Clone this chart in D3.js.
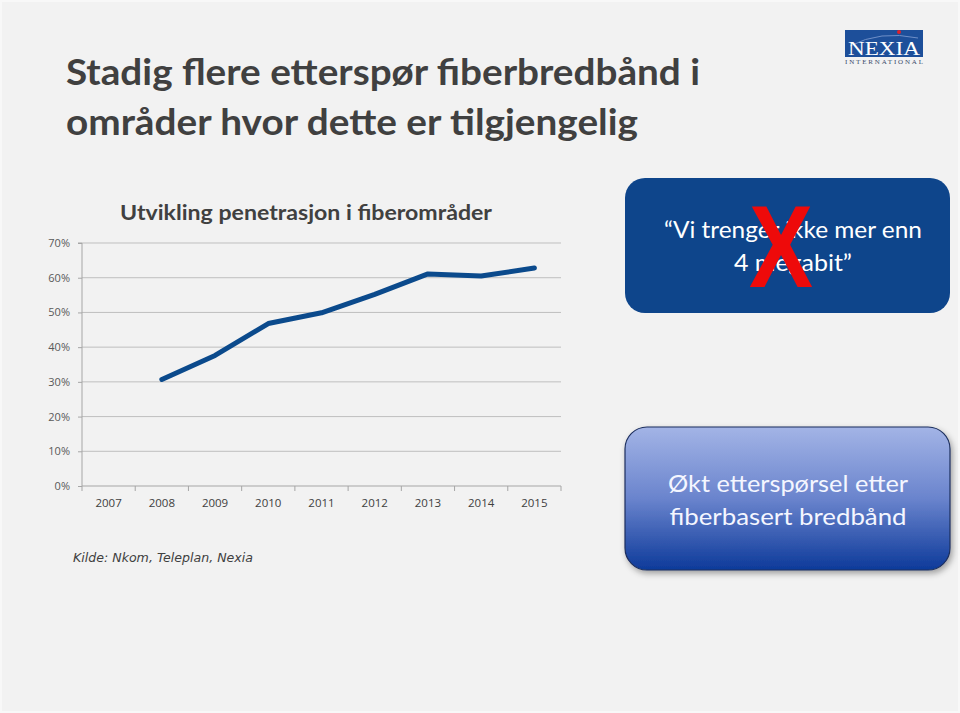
<!DOCTYPE html>
<html><head><meta charset="utf-8">
<script src="https://cdn.jsdelivr.net/npm/d3@7"></script>
<style>
html,body{margin:0;padding:0;background:#f2f2f2;}
svg{display:block;}
</style></head>
<body>
<svg id="c" width="960" height="713"></svg>
<script>
const years = ["2007","2008","2009","2010","2011","2012","2013","2014","2015"];
const penetration = [null, 30.7, 37.6, 46.8, 49.9, 55.2, 61.1, 60.5, 62.8];
const yTicks = [0,10,20,30,40,50,60,70];
const titleLines = ["Stadig flere etterspør fiberbredbånd i","områder hvor dette er tilgjengelig"];
const chartTitle = "Utvikling penetrasjon i fiberområder";
const quoteLines = ["\u201CVi trenger ikke mer enn","4 megabit\u201D"];
const resultLines = ["Økt etterspørsel etter","fiberbasert bredbånd"];
const source = "Kilde: Nkom, Teleplan, Nexia";

const svg = d3.select("#c");
const defs = svg.append("defs");
const W = 960, H = 713;
svg.append("rect").attr("width",W).attr("height",H).attr("fill","#f2f2f2");
svg.append("rect").attr("x",1).attr("y",1).attr("width",W-2).attr("height",H-2)
  .attr("fill","none").attr("stroke","#f8f8f8").attr("stroke-width",2);

// Main title
const tf = "Lato, 'Open Sans', sans-serif";
const tW = [634, 572];
titleLines.forEach((t,i)=>{
  svg.append("text").attr("x",66).attr("y",85+i*50)
    .attr("font-family",tf).attr("font-weight",700).attr("font-size",36)
    .attr("fill","#404040").attr("textLength",tW[i]).attr("lengthAdjust","spacingAndGlyphs")
    .text(t);
});

// Logo
const lg = svg.append("g");
lg.append("rect").attr("x",845).attr("y",30).attr("width",78).attr("height",27).attr("fill","#1d4f9a");
lg.append("path").attr("d","M850,46 Q880,30 918,38").attr("fill","none").attr("stroke","#6f8fc8").attr("stroke-width",1);
lg.append("circle").attr("cx",899).attr("cy",32).attr("r",2).attr("fill","#e0202a");
lg.append("text").attr("x",884).attr("y",55).attr("text-anchor","middle")
  .attr("font-family","'Liberation Serif', serif").attr("font-size",19).attr("fill","#ffffff")
  .attr("textLength",72).attr("lengthAdjust","spacingAndGlyphs").text("NEXIA");
lg.append("text").attr("x",884).attr("y",64).attr("text-anchor","middle")
  .attr("font-family","'Liberation Serif', serif").attr("font-size",7).attr("fill","#3a4a6a")
  .attr("textLength",78).attr("lengthAdjust","spacing").text("INTERNATIONAL");

// Chart
const x = d3.scaleBand().domain(years).range([82,561]);
const y = d3.scaleLinear().domain([0,70]).range([486,243]);
const g = svg.append("g");

g.append("text").attr("x",306).attr("y",220).attr("text-anchor","middle")
  .attr("font-family",tf).attr("font-weight",700).attr("font-size",20).attr("fill","#404040")
  .attr("textLength",372).attr("lengthAdjust","spacingAndGlyphs").text(chartTitle);

// gridlines
g.append("g").selectAll("line").data(yTicks.filter(d=>d>0)).join("line")
  .attr("x1",82).attr("x2",561).attr("y1",d=>y(d)).attr("y2",d=>y(d))
  .attr("stroke","#bfbfbf").attr("stroke-width",1);

// y axis
const yAxis = d3.axisLeft(y).tickValues(yTicks).tickSize(4).tickFormat(d=>d+"%");
const ya = g.append("g").attr("transform","translate(82,0)").call(yAxis);
ya.select(".domain").attr("stroke","#a6a6a6").attr("d","M-4,"+y(70)+"H0V"+y(0));
ya.selectAll(".tick line").attr("stroke","#a6a6a6");
ya.selectAll(".tick text").attr("font-family","'Open Sans', sans-serif").attr("font-size",11)
  .attr("fill","#595959").attr("x",-12);

// x axis
const xa = g.append("g").attr("transform","translate(0,486)");
xa.append("line").attr("x1",82).attr("x2",561).attr("stroke","#a6a6a6");
xa.selectAll("line.t").data(years.concat(["end"])).join("line").attr("class","t")
  .attr("x1",(d,i)=>82+i*x.step()).attr("x2",(d,i)=>82+i*x.step())
  .attr("y1",0).attr("y2",5).attr("stroke","#a6a6a6");
xa.selectAll("text").data(years).join("text")
  .attr("x",d=>x(d)+x.bandwidth()/2).attr("y",21).attr("text-anchor","middle")
  .attr("font-family","'Open Sans', sans-serif").attr("font-size",11.5).attr("fill","#404040")
  .text(d=>d);

// line
const pts = years.map((yr,i)=>({yr, v:penetration[i]})).filter(d=>d.v!=null);
g.append("path").datum(pts)
  .attr("d", d3.line().x(d=>x(d.yr)+x.bandwidth()/2).y(d=>y(d.v)))
  .attr("fill","none").attr("stroke","#0b4a8c").attr("stroke-width",5)
  .attr("stroke-linecap","round").attr("stroke-linejoin","round");

// source
svg.append("text").attr("x",73).attr("y",562)
  .attr("font-family","'DejaVu Sans', Verdana, sans-serif").attr("font-style","italic")
  .attr("font-size",12.5).attr("fill","#404040").attr("textLength",180).attr("lengthAdjust","spacingAndGlyphs")
  .text(source);

// Box 1
svg.append("rect").attr("x",625).attr("y",178).attr("width",325).attr("height",135).attr("rx",20)
  .attr("fill","#0e458b");
const qW = [258, 118];
quoteLines.forEach((t,i)=>{
  svg.append("text").attr("x",793).attr("y",238+i*33).attr("text-anchor","middle")
    .attr("font-family",tf).attr("font-size",23).attr("fill","#ffffff")
    .attr("textLength",qW[i]).attr("lengthAdjust","spacingAndGlyphs").text(t);
});
svg.append("text").attr("transform","translate(781,287) scale(0.82,1)").attr("text-anchor","middle")
  .attr("font-family","'Liberation Sans', Arial, sans-serif").attr("font-weight",700)
  .attr("font-size",117).attr("fill","#ee0a0a").text("X");

// Box 2
const grad = defs.append("linearGradient").attr("id","g2").attr("x1",0).attr("y1",0).attr("x2",0).attr("y2",1);
grad.append("stop").attr("offset","0%").attr("stop-color","#a3b4e6");
grad.append("stop").attr("offset","50%").attr("stop-color","#6a84cd");
grad.append("stop").attr("offset","100%").attr("stop-color","#0d3a9a");
const sh = defs.append("filter").attr("id","sh").attr("x","-10%").attr("y","-10%").attr("width","130%").attr("height","130%");
sh.append("feDropShadow").attr("dx",2).attr("dy",3).attr("stdDeviation",3).attr("flood-color","#000").attr("flood-opacity",0.35);
svg.append("rect").attr("x",625).attr("y",427).attr("width",325).attr("height",143).attr("rx",22)
  .attr("fill","url(#g2)").attr("stroke","#1c2f5e").attr("stroke-width",1.2).attr("filter","url(#sh)");
const rW = [240, 237];
resultLines.forEach((t,i)=>{
  svg.append("text").attr("x",788).attr("y",492+i*33).attr("text-anchor","middle")
    .attr("font-family",tf).attr("font-size",24).attr("fill","#f4f6ff")
    .attr("textLength",rW[i]).attr("lengthAdjust","spacingAndGlyphs").text(t);
});
</script>
</body></html>
